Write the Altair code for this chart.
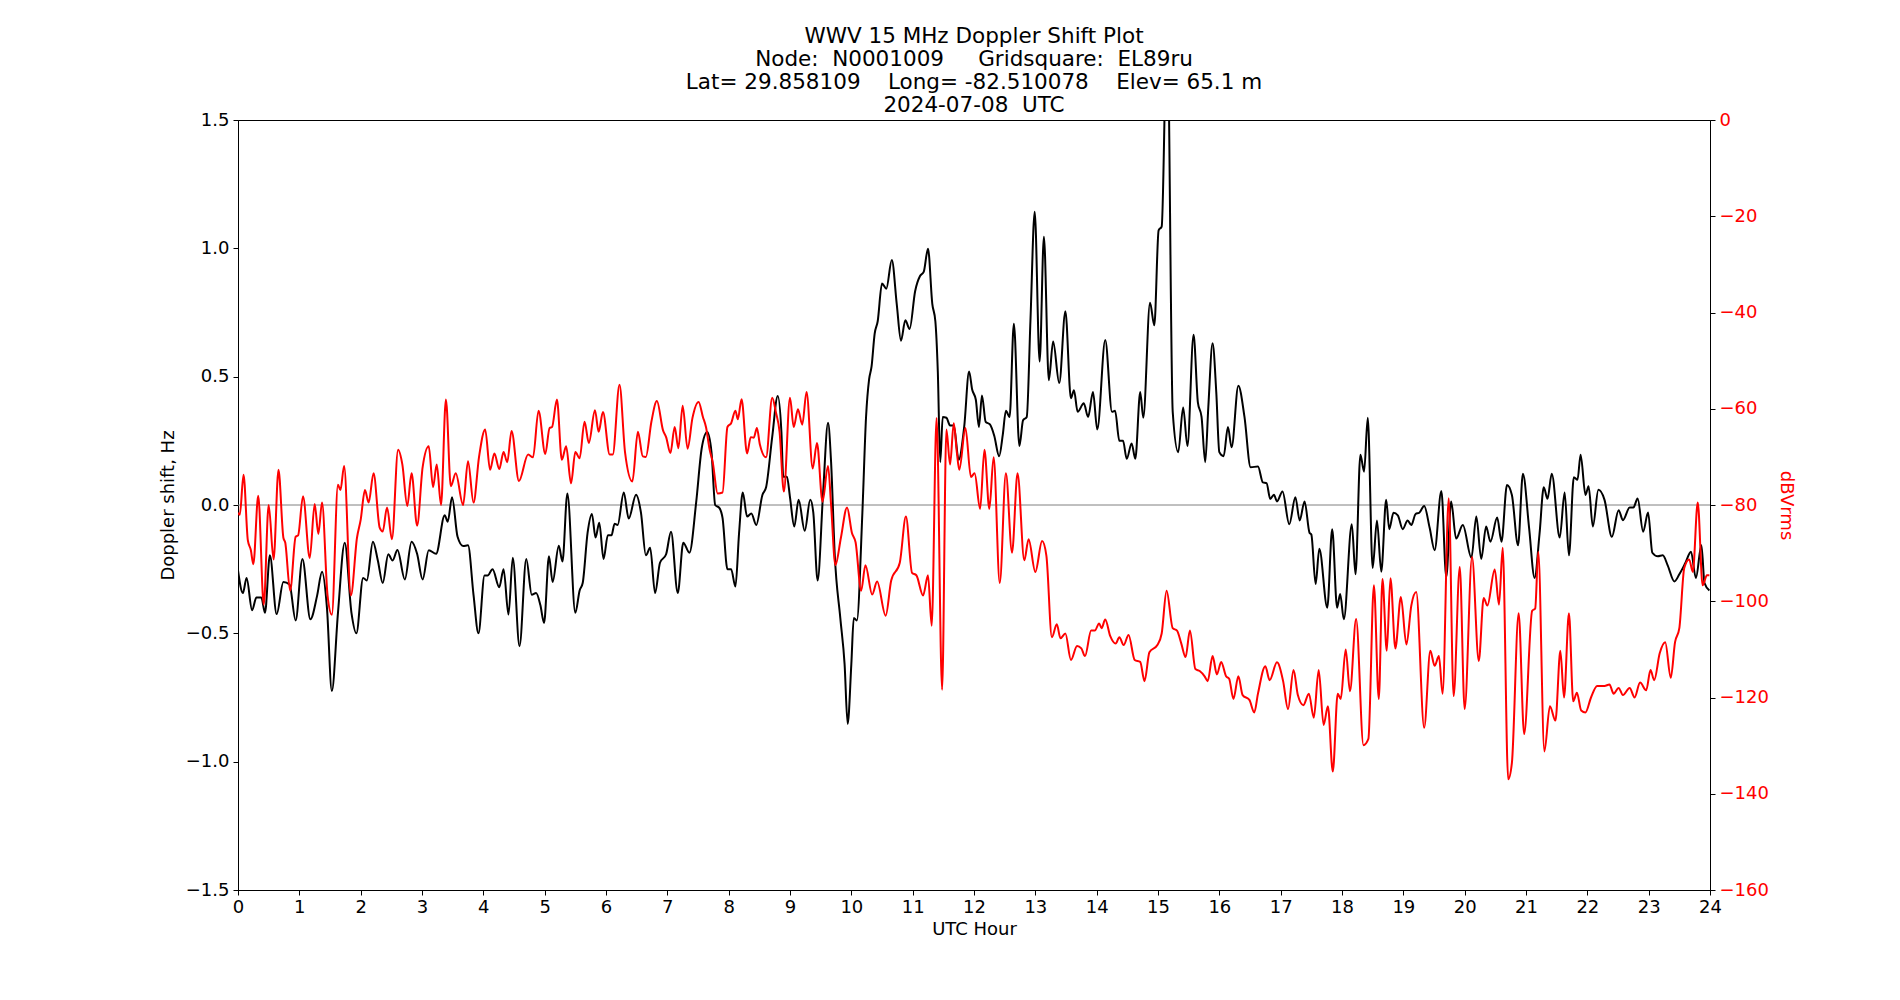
import altair as alt
import pandas as pd

# ---- Doppler shift (black, left axis) ----
black_hours = [
    0.00, 0.08, 0.14, 0.23, 0.30, 0.38, 0.44, 0.52, 0.63, 0.74, 0.84, 0.94, 1.05, 1.18, 1.29, 1.37, 1.45, 1.53,
    1.63, 1.74, 1.85, 1.93, 2.04, 2.10, 2.20, 2.28, 2.36, 2.45, 2.52, 2.60, 2.72, 2.83, 2.92, 3.01, 3.11, 3.23,
    3.37, 3.42, 3.49, 3.58, 3.67, 3.75, 3.84, 3.92, 4.02, 4.07, 4.15, 4.26, 4.33, 4.41, 4.48, 4.59, 4.70, 4.79,
    4.86, 4.93, 4.99, 5.07, 5.13, 5.23, 5.29, 5.37, 5.50, 5.57, 5.62, 5.70, 5.77, 5.83, 5.89, 5.96, 6.03, 6.09,
    6.14, 6.19, 6.29, 6.37, 6.49, 6.57, 6.65, 6.72, 6.80, 6.88, 6.98, 7.06, 7.17, 7.26, 7.36, 7.47, 7.56, 7.65,
    7.72, 7.78, 7.85, 7.90, 7.98, 8.04, 8.11, 8.17, 8.23, 8.30, 8.37, 8.45, 8.55, 8.61, 8.71, 8.80, 8.86, 8.89,
    8.95, 9.00, 9.07, 9.14, 9.24, 9.33, 9.38, 9.45, 9.54, 9.62, 9.67, 9.73, 9.82, 9.89, 9.94, 10.00, 10.04, 10.09,
    10.18, 10.24, 10.29, 10.33, 10.38, 10.43, 10.50, 10.57, 10.66, 10.74, 10.81, 10.88, 10.95, 11.04, 11.12, 11.18,
    11.25, 11.32, 11.37, 11.41, 11.45, 11.49, 11.55, 11.61, 11.67, 11.75, 11.84, 11.92, 11.97, 12.03, 12.08, 12.13,
    12.19, 12.26, 12.33, 12.41, 12.47, 12.52, 12.58, 12.65, 12.74, 12.80, 12.86, 12.92, 12.99, 13.07, 13.14, 13.22,
    13.29, 13.39, 13.49, 13.58, 13.63, 13.69, 13.79, 13.86, 13.94, 14.01, 14.14, 14.25, 14.30, 14.37, 14.43, 14.49,
    14.57, 14.63, 14.71, 14.76, 14.87, 14.94, 15.01, 15.06, 15.15, 15.24, 15.33, 15.41, 15.48, 15.58, 15.65, 15.71,
    15.77, 15.82, 15.89, 15.95, 16.00, 16.07, 16.14, 16.20, 16.31, 16.41, 16.51, 16.63, 16.71, 16.77, 16.83, 16.89,
    16.94, 17.03, 17.14, 17.24, 17.31, 17.39, 17.47, 17.50, 17.57, 17.63, 17.76, 17.84, 17.92, 17.97, 18.03, 18.16,
    18.22, 18.30, 18.36, 18.42, 18.50, 18.57, 18.64, 18.72, 18.77, 18.84, 18.91, 18.99, 19.07, 19.13, 19.20, 19.26,
    19.34, 19.43, 19.51, 19.62, 19.70, 19.78, 19.86, 19.97, 20.11, 20.19, 20.27, 20.35, 20.42, 20.53, 20.60, 20.69,
    20.77, 20.87, 20.95, 21.05, 21.14, 21.22, 21.29, 21.35, 21.42, 21.55, 21.63, 21.70, 21.78, 21.84, 21.89, 21.97,
    22.02, 22.09, 22.18, 22.28, 22.40, 22.51, 22.58, 22.69, 22.75, 22.82, 22.91, 22.99, 23.06, 23.15, 23.23, 23.31,
    23.42, 23.50, 23.60, 23.69, 23.77, 23.86, 23.91, 23.99,
]
black_hz = [
    -0.255, -0.343, -0.284, -0.41, -0.36, -0.36, -0.42, -0.196, -0.425, -0.30, -0.31, -0.45, -0.21, -0.445, -0.353, -0.26, -0.40, -0.725,
    -0.42, -0.147, -0.42, -0.50, -0.284, -0.294, -0.143, -0.216, -0.304, -0.192, -0.216, -0.175, -0.29, -0.143, -0.19, -0.29, -0.176, -0.19,
    -0.04, -0.065, 0.03, -0.124, -0.16, -0.157, -0.35, -0.50, -0.275, -0.275, -0.25, -0.32, -0.25, -0.427, -0.206, -0.55, -0.21, -0.35,
    -0.343, -0.39, -0.46, -0.20, -0.30, -0.159, -0.22, 0.045, -0.42, -0.333, -0.304, -0.108, -0.035, -0.127, -0.069, -0.21, -0.118, -0.118,
    -0.073, -0.078, 0.049, -0.053, 0.04, -0.03, -0.196, -0.167, -0.343, -0.225, -0.192, -0.104, -0.343, -0.147, -0.186, 0.01, 0.22, 0.284,
    0.206, 0.0, -0.012, -0.05, -0.25, -0.25, -0.318, -0.108, 0.049, -0.045, -0.033, -0.078, 0.039, 0.069, 0.265, 0.425, 0.284, 0.11,
    0.11, 0.03, -0.084, 0.02, -0.10, 0.02, -0.03, -0.294, 0.049, 0.32, 0.167, -0.196, -0.44, -0.62, -0.853, -0.62, -0.44, -0.45,
    -0.03, 0.343, 0.49, 0.54, 0.667, 0.716, 0.863, 0.843, 0.955, 0.784, 0.64, 0.72, 0.686, 0.833, 0.892, 0.908,
    0.998, 0.784, 0.716, 0.52, 0.167, 0.343, 0.34, 0.31, 0.31, 0.176, 0.304, 0.52, 0.45, 0.41, 0.304, 0.427,
    0.324, 0.314, 0.27, 0.19, 0.275, 0.367, 0.343, 0.706, 0.23, 0.33, 0.343, 0.716, 1.143, 0.559, 1.045, 0.486,
    0.637, 0.475, 0.755, 0.416, 0.447, 0.363, 0.396, 0.343, 0.44, 0.294, 0.643, 0.363, 0.367, 0.25, 0.25, 0.18,
    0.24, 0.18, 0.44, 0.34, 0.788, 0.70, 1.07, 1.085, 1.90, 0.363, 0.206, 0.38, 0.23, 0.663, 0.40, 0.343,
    0.167, 0.38, 0.63, 0.44, 0.206, 0.19, 0.304, 0.225, 0.465, 0.343, 0.147, 0.15, 0.088, 0.085, 0.024, 0.04,
    0.014, 0.053, -0.075, 0.03, -0.06, 0.014, -0.108, -0.115, -0.308, -0.17, -0.40, -0.094, -0.40, -0.347, -0.445, -0.075,
    -0.27, 0.196, 0.13, 0.34, -0.245, -0.06, -0.26, 0.02, -0.094, -0.03, -0.04, -0.094, -0.06, -0.078, -0.035, -0.03,
    -0.004, -0.09, -0.176, 0.055, -0.28, 0.014, -0.131, -0.078, -0.206, -0.045, -0.21, -0.084, -0.143, -0.049, -0.143, 0.078,
    0.039, -0.157, 0.122, -0.088, -0.284, -0.114, 0.069, 0.024, 0.122, -0.127, 0.049, -0.196, 0.108, 0.098, 0.196, 0.039,
    0.073, -0.084, 0.059, 0.02, -0.124, -0.02, -0.059, -0.01, -0.01, 0.025, -0.104, -0.029, -0.186, -0.20, -0.196, -0.235,
    -0.298, -0.27, -0.225, -0.182, -0.284, -0.157, -0.304, -0.333,
]

# ---- Signal level (red, right axis) ----
red_hours = [
    0.00, 0.03, 0.09, 0.16, 0.21, 0.25, 0.33, 0.42, 0.50, 0.58, 0.66, 0.74, 0.77, 0.85, 0.94, 0.98, 1.06, 1.17,
    1.25, 1.31, 1.37, 1.46, 1.53, 1.63, 1.67, 1.73, 1.84, 1.94, 2.00, 2.07, 2.13, 2.21, 2.31, 2.36, 2.43, 2.51,
    2.61, 2.68, 2.76, 2.83, 2.92, 3.01, 3.11, 3.18, 3.24, 3.31, 3.39, 3.47, 3.55, 3.67, 3.75, 3.84, 3.93, 4.03,
    4.11, 4.18, 4.26, 4.33, 4.39, 4.46, 4.58, 4.73, 4.81, 4.90, 5.01, 5.08, 5.12, 5.20, 5.28, 5.35, 5.43, 5.50,
    5.57, 5.65, 5.72, 5.82, 5.88, 5.95, 6.06, 6.11, 6.22, 6.31, 6.43, 6.52, 6.60, 6.65, 6.74, 6.83, 6.93, 6.98,
    7.05, 7.12, 7.18, 7.25, 7.33, 7.41, 7.51, 7.58, 7.63, 7.69, 7.74, 7.82, 7.90, 7.98, 8.04, 8.11, 8.15, 8.21,
    8.30, 8.36, 8.41, 8.46, 8.51, 8.61, 8.71, 8.77, 8.83, 8.90, 9.00, 9.06, 9.13, 9.20, 9.27, 9.37, 9.44, 9.53,
    9.62, 9.67, 9.74, 9.83, 9.93, 10.01, 10.07, 10.16, 10.23, 10.34, 10.42, 10.56, 10.65, 10.79, 10.89, 10.99, 11.06, 11.17,
    11.25, 11.31, 11.39, 11.48, 11.55, 11.61, 11.67, 11.72, 11.76, 11.86, 11.95, 12.01, 12.10, 12.17, 12.25, 12.32, 12.42, 12.52,
    12.62, 12.71, 12.82, 12.89, 13.00, 13.11, 13.18, 13.27, 13.35, 13.41, 13.49, 13.58, 13.68, 13.75, 13.81, 13.91, 13.97, 14.04,
    14.08, 14.14, 14.22, 14.31, 14.37, 14.44, 14.52, 14.62, 14.71, 14.78, 14.86, 14.99, 15.06, 15.14, 15.24, 15.31, 15.38, 15.45,
    15.52, 15.61, 15.68, 15.76, 15.81, 15.89, 15.96, 16.03, 16.11, 16.16, 16.23, 16.31, 16.38, 16.49, 16.57, 16.63, 16.75, 16.82,
    16.94, 17.04, 17.12, 17.21, 17.28, 17.37, 17.46, 17.54, 17.62, 17.70, 17.77, 17.85, 17.93, 17.98, 18.06, 18.13, 18.23, 18.35,
    18.43, 18.52, 18.60, 18.66, 18.73, 18.79, 18.87, 18.96, 19.05, 19.13, 19.21, 19.34, 19.44, 19.51, 19.58, 19.64, 19.74, 19.82,
    19.92, 20.00, 20.12, 20.23, 20.31, 20.37, 20.49, 20.56, 20.62, 20.71, 20.77, 20.88, 20.97, 21.10, 21.15, 21.20, 21.30, 21.39,
    21.48, 21.56, 21.62, 21.70, 21.77, 21.83, 21.90, 21.97, 22.06, 22.16, 22.28, 22.36, 22.43, 22.51, 22.58, 22.69, 22.77, 22.86,
    22.96, 23.03, 23.09, 23.18, 23.27, 23.36, 23.43, 23.50, 23.58, 23.66, 23.72, 23.80, 23.88, 23.95, 23.99,
]
red_db = [
    -81.6, -82.0, -73.7, -87.3, -89.4, -92.3, -78.1, -100.7, -80.0, -91.3, -72.7, -86.8, -87.8, -97.8, -86.6, -86.3, -78.2, -91.0,
    -79.8, -86.0, -79.5, -98.8, -102.8, -75.8, -76.9, -71.9, -98.8, -86.8, -83.1, -76.9, -79.5, -73.4, -84.7, -85.5, -80.5, -87.1,
    -68.5, -71.6, -80.2, -73.4, -84.3, -72.2, -67.8, -76.3, -71.6, -80.0, -58.1, -76.1, -73.4, -80.0, -70.9, -79.5, -70.0, -64.3,
    -72.7, -69.3, -72.5, -69.0, -71.1, -64.6, -75.0, -69.5, -70.1, -60.4, -69.4, -64.0, -63.8, -58.1, -70.6, -67.8, -75.5, -69.0,
    -70.3, -62.7, -67.1, -60.3, -64.8, -60.7, -69.5, -69.5, -55.0, -69.0, -75.1, -64.8, -69.9, -70.0, -62.7, -58.4, -64.5, -65.9,
    -69.2, -63.8, -68.2, -59.4, -68.3, -61.9, -58.6, -61.7, -63.8, -68.5, -71.1, -77.6, -77.4, -63.8, -63.0, -60.4, -62.2, -58.0,
    -69.3, -65.9, -66.0, -64.0, -67.5, -70.1, -57.7, -60.7, -64.8, -77.2, -57.7, -63.8, -60.1, -63.3, -56.5, -72.4, -67.1, -79.3,
    -71.9, -80.0, -92.5, -86.8, -80.5, -85.8, -87.8, -97.8, -92.5, -98.6, -95.9, -103.0, -95.7, -92.0, -82.4, -94.1, -94.6, -98.8,
    -94.6, -105.1, -61.9, -118.4, -64.3, -71.6, -63.0, -69.0, -72.7, -64.0, -74.2, -73.4, -80.8, -68.5, -80.8, -70.1, -96.2, -73.4,
    -89.9, -73.4, -91.5, -87.1, -93.9, -87.5, -90.5, -107.5, -104.8, -107.7, -106.7, -112.2, -109.3, -109.8, -111.4, -106.1, -106.1, -104.6,
    -105.6, -103.8, -107.2, -108.8, -107.5, -109.1, -107.0, -112.2, -112.6, -116.6, -110.6, -109.1, -106.7, -97.8, -105.6, -106.1, -108.8, -111.6,
    -106.1, -114.1, -114.5, -115.6, -116.6, -111.4, -115.2, -112.6, -115.6, -116.1, -120.3, -115.6, -119.5, -120.5, -123.1, -119.2, -113.5, -116.4,
    -112.7, -116.6, -122.4, -114.3, -119.5, -121.6, -119.2, -124.2, -114.3, -125.7, -121.8, -135.4, -119.2, -120.3, -110.0, -118.7, -103.7, -129.9,
    -128.6, -96.7, -120.3, -95.4, -110.3, -95.2, -109.8, -99.1, -109.0, -100.9, -98.1, -126.3, -110.3, -113.4, -111.4, -119.2, -78.6, -119.7,
    -92.9, -122.4, -90.8, -112.4, -99.3, -100.9, -93.4, -100.7, -88.9, -137.0, -133.6, -102.5, -127.6, -102.0, -101.5, -89.7, -131.2, -121.8,
    -124.8, -110.3, -120.0, -102.5, -120.8, -119.0, -122.7, -123.1, -120.0, -117.6, -117.6, -117.3, -119.2, -118.0, -119.5, -118.0, -120.0, -116.9,
    -118.5, -114.3, -116.4, -110.8, -108.5, -115.9, -108.5, -105.6, -93.1, -91.3, -93.9, -79.5, -96.7, -94.6, -94.6,
]

hz_ticks = [-1.5, -1.0, -0.5, 0.0, 0.5, 1.0, 1.5]
db_ticks = [-160, -140, -120, -100, -80, -60, -40, -20, 0]
hour_ticks = list(range(0, 25))
zero_line = [0.0]

NB = "\u00a0"
title_lines = [
    "WWV 15 MHz Doppler Shift Plot",
    "Node:" + NB * 2 + "N0001009" + NB * 5 + "Gridsquare:" + NB * 2 + "EL89ru",
    "Lat= 29.858109" + NB * 4 + "Long= -82.510078" + NB * 4 + "Elev= 65.1 m",
    "2024-07-08" + NB * 2 + "UTC",
]

black_df = pd.DataFrame({"hour": black_hours, "hz": black_hz})
red_df = pd.DataFrame({"hour": red_hours, "db": red_db})
zero_df = pd.DataFrame({"hz": zero_line})

FONT = "DejaVu Sans"
FS = 18

x_enc = alt.X(
    "hour:Q",
    scale=alt.Scale(domain=[0, 24], nice=False, zero=False),
    axis=alt.Axis(
        title="UTC Hour", values=hour_ticks, format="d", labelAngle=0, grid=False,
        tickSize=5, tickColor="black", domainColor="black", labelColor="black",
        labelFontSize=FS, titleFontSize=FS, labelFont=FONT, titleFont=FONT,
        titleFontWeight="normal", titleColor="black", labelPadding=3, titlePadding=4,
        labelFlush=False,
    ),
)

hz_scale = alt.Scale(domain=[-1.5, 1.5], nice=False, zero=False)
hz_axis = alt.Axis(
    title="Doppler shift, Hz", values=hz_ticks, format=".1f", grid=False,
    tickSize=5, tickColor="black", domainColor="black", labelColor="black",
    labelFontSize=FS, titleFontSize=FS, labelFont=FONT, titleFont=FONT,
    titleFontWeight="normal", titleColor="black", labelPadding=4, titlePadding=8,
    labelFlush=False,
)

zero_rule = alt.Chart(zero_df).mark_rule(color="#808080", strokeWidth=1).encode(
    y=alt.Y("hz:Q", scale=hz_scale, axis=hz_axis, title="Doppler shift, Hz")
)

black_line = alt.Chart(black_df).mark_line(
    color="black", strokeWidth=2, interpolate="monotone", clip=True
).encode(
    x=x_enc,
    y=alt.Y("hz:Q", scale=hz_scale, axis=hz_axis, title="Doppler shift, Hz"),
)

left_layer = alt.layer(zero_rule, black_line)

red_line = alt.Chart(red_df).mark_line(
    color="red", strokeWidth=2, interpolate="monotone", clip=True
).encode(
    x=x_enc,
    y=alt.Y(
        "db:Q",
        scale=alt.Scale(domain=[-160, 0], nice=False, zero=False),
        axis=alt.Axis(
            orient="right", title="dBVrms", values=db_ticks, format="d", grid=False,
            tickSize=5, tickColor="black", domainColor="black", labelColor="red",
            labelFontSize=FS, titleFontSize=FS, labelFont=FONT, titleFont=FONT,
            titleFontWeight="normal", titleColor="red", labelPadding=4, titlePadding=8,
            labelFlush=False,
        ),
    ),
)

chart = (
    alt.layer(left_layer, red_line)
    .resolve_scale(y="independent")
    .properties(
        width=1472,
        height=770,
        title=alt.TitleParams(
            text=title_lines, fontSize=21.5, font=FONT, fontWeight="normal",
            color="black", anchor="middle", lineHeight=23, offset=-5.5,
        ),
        autosize=alt.AutoSizeParams(type="none"),
        padding={"left": 238, "top": 120, "right": 190, "bottom": 110},
        background="white",
    )
    .configure_view(stroke="black", strokeWidth=1)
)

chart.save("out.html", embed_options={"renderer": "svg", "actions": False})
